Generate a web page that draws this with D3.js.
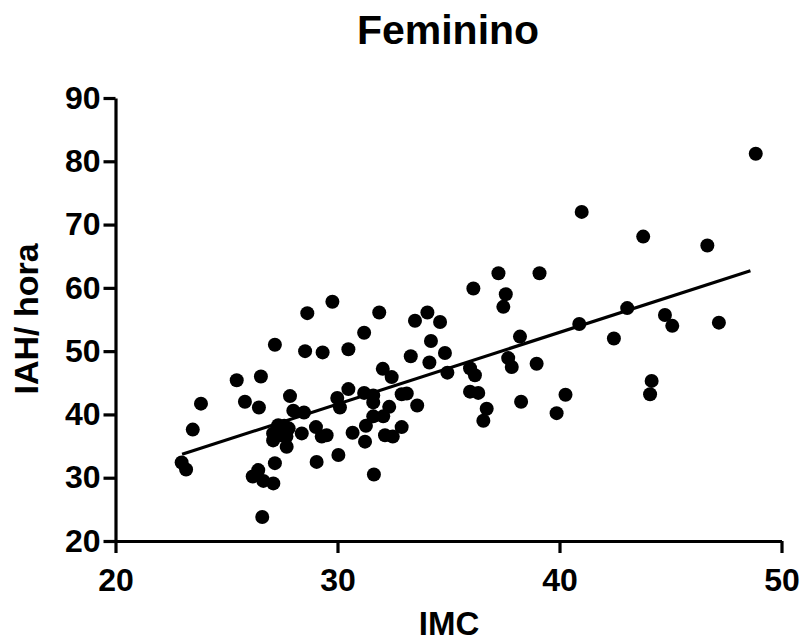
<!DOCTYPE html>
<html>
<head>
<meta charset="utf-8">
<script src="https://cdn.jsdelivr.net/npm/d3@7"></script>
<style>
  html, body { margin: 0; padding: 0; background: #fff; }
  svg { display: block; }
  text { font-family: "Liberation Sans", Arial, Helvetica, sans-serif; font-weight: bold; fill: #000; }
</style>
</head>
<body>
<svg id="chart" width="802" height="641"></svg>
<script>
// ---- Data ----
const title = "Feminino";
const xLabel = "IMC";
const yLabel = "IAH/ hora";
const xTicks = [20, 30, 40, 50];
const yTicks = [20, 30, 40, 50, 60, 70, 80, 90];
const imc = [
  22.98, 23.18, 23.48, 23.85, 25.46, 25.83, 26.55, 26.46, 27.18, 26.61,
  26.18, 26.43, 26.66, 27.11, 27.18, 27.86, 28.01, 28.49, 28.64, 28.54,
  29.77, 29.33, 30.49, 31.20, 27.33, 27.60, 27.80, 27.10, 27.45, 27.70,
  27.10, 27.71, 28.39, 29.03, 29.29, 29.51, 29.06, 30.04, 29.99, 30.11,
  30.49, 30.68, 31.28, 31.24, 31.64, 31.20, 31.61, 31.61, 31.61, 32.06,
  32.33, 32.14, 32.49, 32.89, 32.89, 33.12, 33.59, 32.04, 32.44, 31.88,
  33.30, 33.49, 34.05, 34.62, 34.21, 34.14, 34.84, 34.95, 35.97, 36.19,
  35.97, 36.34, 36.72, 36.57, 36.12, 37.25, 37.58, 37.47, 37.69, 37.85,
  38.22, 38.27, 38.97, 39.10, 39.87, 40.27, 40.89, 41.00, 42.45, 43.05,
  43.77, 44.15, 44.08, 44.75, 45.08, 46.66, 47.18, 48.84
];
const iah = [
  32.4, 31.3, 37.6, 41.7, 45.4, 42.0, 46.0, 41.1, 51.0, 23.8,
  30.2, 31.2, 29.5, 29.1, 32.3, 42.9, 40.6, 40.3, 56.0, 50.0,
  57.8, 49.8, 50.3, 52.9, 38.3, 38.2, 37.8, 37.0, 36.7, 36.5,
  35.9, 34.9, 37.0, 38.0, 36.5, 36.7, 32.5, 33.6, 42.6, 41.1,
  44.0, 37.1, 38.2, 35.7, 30.5, 43.4, 43.0, 41.9, 39.7, 39.7,
  41.2, 36.7, 36.5, 38.0, 43.2, 43.3, 41.4, 47.2, 45.9, 56.1,
  49.2, 54.8, 56.1, 54.6, 51.6, 48.2, 49.7, 46.6, 47.3, 46.2,
  43.6, 43.4, 40.9, 39.0, 59.9, 62.3, 59.0, 57.0, 48.9, 47.5,
  52.3, 42.0, 48.0, 62.3, 40.2, 43.1, 54.3, 72.0, 52.0, 56.8,
  68.1, 45.3, 43.2, 55.7, 54.0, 66.7, 54.5, 81.2
];
const fitX = [23.0, 48.6];
const fitY = [33.7, 62.7];

// ---- Chart ----
const svg = d3.select("#chart");
const x = d3.scaleLinear().domain([20, 50]).range([115.5, 781.5]);
const y = d3.scaleLinear().domain([20, 90]).range([541, 98]);

// title
svg.append("text")
  .attr("x", 448).attr("y", 44)
  .attr("text-anchor", "middle")
  .style("font-size", "41px")
  .text(title);

// axes
const xAxis = svg.append("g")
  .attr("transform", `translate(0,${y(20)})`)
  .call(d3.axisBottom(x).tickValues(xTicks).tickSize(12).tickSizeOuter(0).tickPadding(15));
const yAxis = svg.append("g")
  .attr("transform", `translate(${x(20)},0)`)
  .call(d3.axisLeft(y).tickValues(yTicks).tickSize(12).tickSizeOuter(0).tickPadding(3));

[xAxis, yAxis].forEach(g => {
  g.select(".domain").attr("stroke", "#000").attr("stroke-width", 3.2);
  g.selectAll(".tick line").attr("stroke", "#000").attr("stroke-width", 3.2);
  g.selectAll(".tick text")
    .style("font-family", "'Liberation Sans', Arial, sans-serif")
    .style("font-weight", "bold")
    .style("font-size", "32px")
    .attr("fill", "#000");
});

// axis labels
svg.append("text")
  .attr("x", 449).attr("y", 635)
  .attr("text-anchor", "middle")
  .style("font-size", "33px")
  .text(xLabel);
svg.append("text")
  .attr("transform", "translate(38,319) rotate(-90)")
  .attr("text-anchor", "middle")
  .style("font-size", "34px")
  .text(yLabel);

// points
const pts = imc.map((v, i) => ({ x: v, y: iah[i] }));
svg.append("g").selectAll("circle")
  .data(pts)
  .join("circle")
  .attr("cx", d => x(d.x))
  .attr("cy", d => y(d.y))
  .attr("r", 7)
  .attr("fill", "#000");

// regression line
svg.append("path")
  .datum(fitX.map((v, i) => [v, fitY[i]]))
  .attr("fill", "none")
  .attr("stroke", "#000")
  .attr("stroke-width", 3.2)
  .attr("d", d3.line().x(d => x(d[0])).y(d => y(d[1])));
</script>
</body>
</html>
